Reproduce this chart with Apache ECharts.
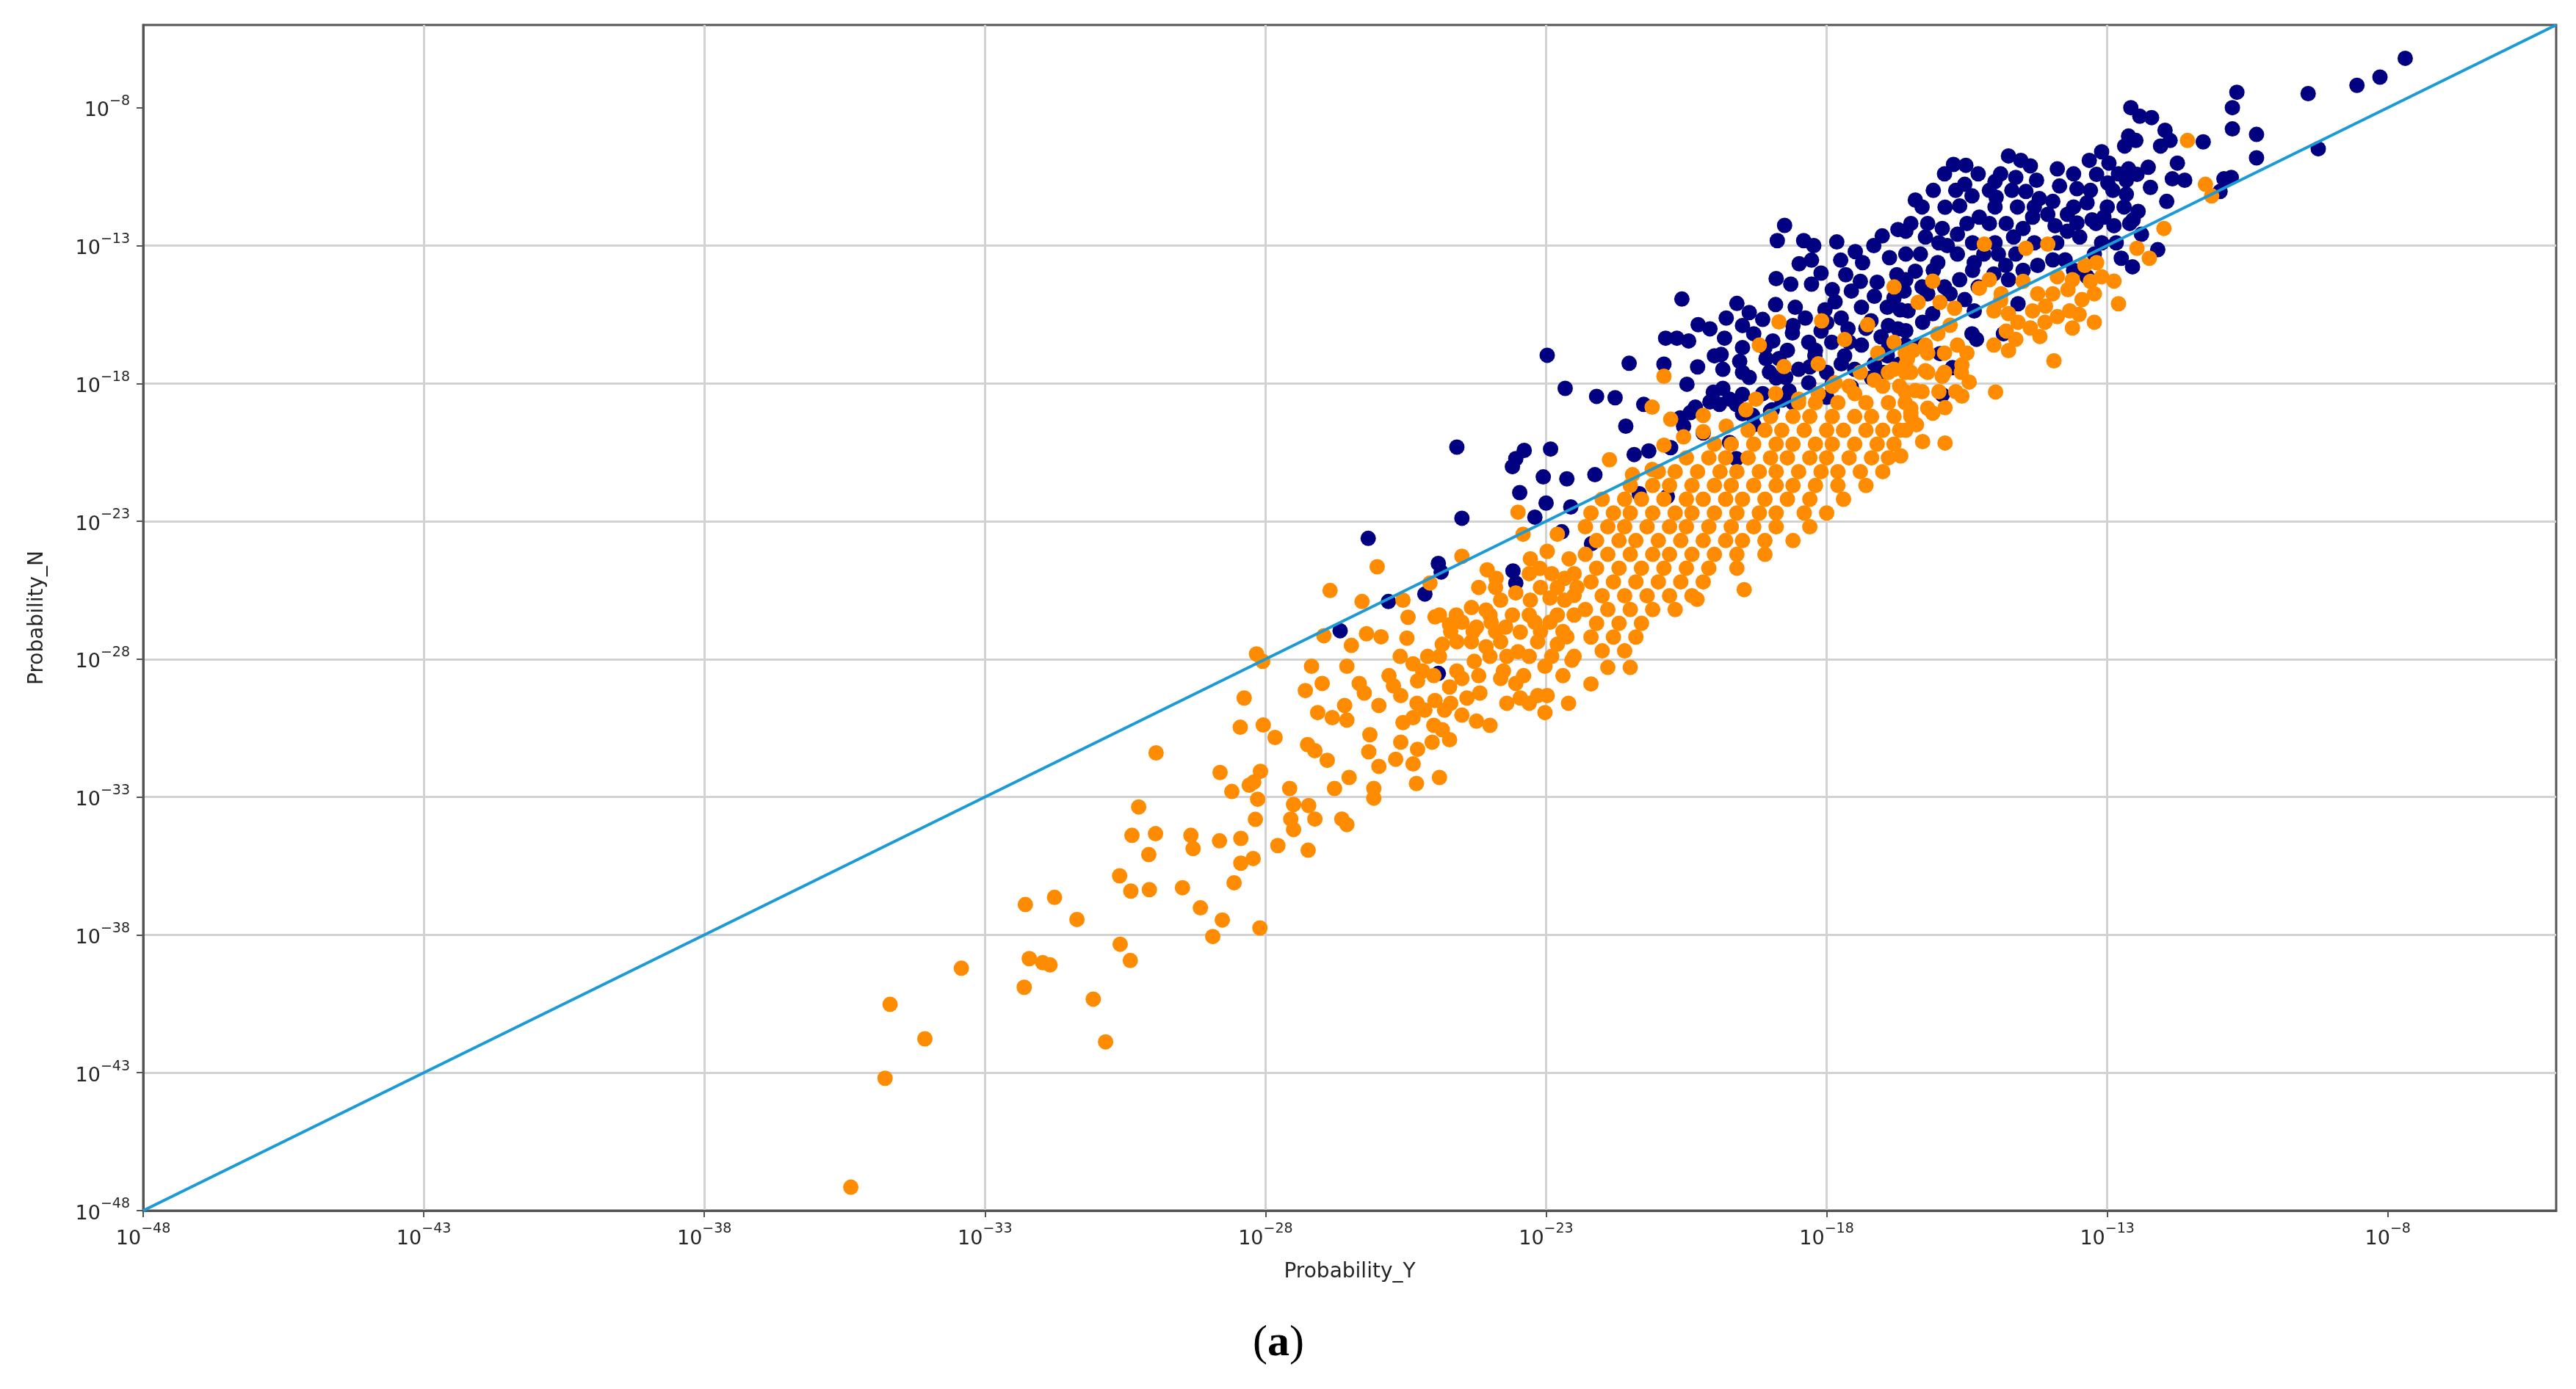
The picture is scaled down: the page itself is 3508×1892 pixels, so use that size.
<!DOCTYPE html>
<html lang="en">
<head>
  <meta charset="UTF-8">
  <title>Probability_N vs Probability_Y</title>
  <style>
    html, body { margin: 0; padding: 0; background: #fff; }
    #chart { width: 3508px; height: 1892px; }
  </style>
</head>
<body>
  <div id="chart"></div>
  <script src="https://cdn.jsdelivr.net/npm/echarts@6/dist/echarts.min.js"></script>
  <script>
    // all values are log10 exponents: [log10(P_Y), log10(P_N)]
    var tickExponents = [-48, -43, -38, -33, -28, -23, -18, -13, -8]
    var axisMin = -48
    var axisMax = -5
    var diagonal = [[-48, -48], [-5, -5]]

    var navyPoints = [
      [-26.17,-23.62],[-24.50,-22.89],[-23.47,-21.96],[-23.0,-22.34],[-22.56,-22.48],[-23.20,-22.85],
      [-22.72,-23.38],[-24.92,-24.53],[-24.87,-24.84],[-25.16,-25.64],[-25.81,-25.91],[-26.67,-26.97],
      [-23.59,-24.80],[-23.54,-25.24],[-24.92,-28.52],
      [-22.98,-16.98],[-24.59,-20.31],[-23.54,-20.73],[-23.39,-20.43],[-23.60,-21.02],[-22.92,-20.38],
      [-23.05,-21.39],[-22.63,-21.46],[-22.19,-23.81],[-22.13,-21.31],[-21.52,-17.27],[-22.66,-18.18],
      [-22.10,-18.47],[-21.77,-18.52],[-21.26,-18.76],[-21.58,-19.55],[-21.43,-20.58],[-21.17,-20.45],
      [-20.78,-20.33],[-21.34,-22.0],[-20.84,-22.10],[-20.58,-14.94],[-20.87,-16.36],[-20.67,-16.36],
      [-20.46,-16.46],[-20.29,-15.87],[-20.08,-16.02],[-19.82,-16.36],[-19.79,-15.63],[-20.49,-18.03],
      [-20.61,-19.25],[-20.43,-19.06],[-20.34,-18.86],[-20.55,-19.55],[-20.02,-18.32],[-19.85,-18.18],
      [-19.73,-18.57],[-20.08,-18.67],[-19.91,-18.76],[-19.61,-18.76],[-19.88,-16.95],[-19.85,-17.49],
      [-19.55,-17.20],[-19.38,-17.78],[-19.73,-20.14],[-19.61,-20.73],[-19.38,-15.43],[-19.14,-15.68],
      [-18.91,-15.14],[-18.56,-15.24],[-18.64,-14.40],[-18.27,-14.40],[-18.38,-15.63],[-18.61,-16.17],
      [-18.96,-16.46],[-19.08,-17.10],[-18.85,-17.10],[-19.02,-17.59],[-18.73,-17.78],[-18.50,-17.49],
      [-18.32,-16.51],[-18.21,-17.0],[-19.14,-18.37],[-18.67,-18.27],[-18.32,-17.98],[-18.97,-18.96],
      [-19.32,-19.16],[-18.03,-15.33],[-17.85,-15.04],[-17.74,-15.63],[-17.56,-14.65],[-17.38,-15.24],
      [-17.15,-14.84],[-16.92,-15.24],[-17.21,-15.73],[-17.62,-16.02],[-17.91,-16.51],[-17.68,-17.0],
      [-17.38,-16.61],[-17.03,-16.31],[-16.73,-16.02],[-17.50,-17.49],[-17.15,-17.29],[-17.74,-17.29],
      [-17.56,-18.13],[-16.92,-17.0],[-16.69,-15.33],[-16.62,-14.65],
      [-19.6,-15.1],[-19.5,-15.9],[-18.6,-15.9],[-18.1,-16.1],[-16.9,-15.9],[-19.5,-16.7],[-19.1,-16.7],
      [-18.7,-16.8],[-17.6,-16.5],[-16.9,-16.7],[-19.5,-17.6],[-18.3,-17.4],[-18.0,-17.6],[-17.2,-17.8],
      [-16.7,-17.3],[-19.5,-18.4],[-18.8,-18.6],[-18.0,-18.5],[-17.9,-18.0],[-17.0,-17.6],[-19.5,-19.1],
      [-19.0,-19.0],[-18.6,-18.7],[-20.2,-19.8],[-19.3,-19.5],[-18.0,-15.8],[-17.4,-14.3],[-16.6,-16.6],
      [-20.3,-17.4],[-20.9,-17.3],[-20.0,-17.0],[-19.3,-16.2],[-18.9,-17.8],[-18.2,-16.8],[-17.3,-16.0],
      [-17.9,-14.6],[-18.9,-14.2],[-18.1,-14.0],[-16.8,-14.9],
      [-18.75,-12.27],[-18.88,-12.82],[-18.41,-12.82],[-18.23,-13.0],[-17.82,-12.87],[-17.49,-13.22],
      [-17.16,-13.0],[-17.01,-12.65],[-16.73,-12.42],[-18.49,-13.66],[-18.27,-13.53],[-17.75,-13.53],
      [-17.36,-13.62],[-16.88,-13.44],[-17.10,-14.33],[-17.66,-14.06],[-16.75,-14.06],
      [-16.42,-11.35],[-15.74,-10.06],[-15.52,-10.09],[-15.54,-10.78],[-15.89,-11.61],[-15.63,-11.56],
      [-15.41,-11.20],[-15.28,-11.97],[-15.0,-10.68],[-14.98,-11.25],[-14.76,-9.75],[-14.54,-9.91],
      [-14.63,-10.53],[-14.37,-10.11],[-14.26,-10.63],[-14.45,-11.04],[-14.21,-11.30],[-13.89,-10.22],
      [-13.85,-10.84],[-13.97,-11.40],[-13.71,-11.87],[-13.54,-10.94],[-13.32,-9.91],[-13.10,-9.60],
      [-12.97,-10.01],[-13.19,-10.42],[-12.99,-10.73],[-13.36,-11.45],[-13.27,-12.07],[-13.54,-12.18],
      [-13.06,-11.97],[-12.88,-12.28],[-12.58,-8.0],[-12.42,-8.31],[-12.21,-8.36],[-11.97,-8.82],
      [-12.62,-9.03],[-12.49,-9.19],[-12.69,-9.39],[-12.05,-9.39],[-11.88,-9.19],[-11.29,-9.24],
      [-10.77,-8.0],[-10.77,-8.77],[-12.62,-10.22],[-12.47,-10.42],[-12.27,-10.16],[-12.66,-10.63],
      [-12.23,-10.89],[-11.75,-10.01],[-11.84,-10.58],[-11.62,-10.63],[-11.94,-11.40],[-10.92,-10.58],
      [-10.79,-10.53],[-10.99,-11.04],[-12.66,-11.14],[-12.45,-11.76],[-12.54,-12.07],[-12.39,-12.59],
      [-12.84,-12.90],[-12.75,-13.46],[-12.55,-13.77],[-12.10,-13.15],
      [-16.59,-12.48],[-16.24,-12.69],[-15.94,-12.38],[-15.67,-12.59],[-15.85,-13.0],[-16.59,-13.31],
      [-16.33,-13.31],[-16.02,-13.62],[-15.67,-13.31],[-15.37,-13.62],[-15.20,-13.31],[-14.94,-13.31],
      [-14.81,-13.72],[-14.63,-13.31],[-14.67,-12.69],[-14.50,-12.38],[-14.33,-11.97],[-14.06,-11.87],
      [-13.93,-12.28],[-13.71,-12.48],[-13.49,-12.69],[-14.24,-13.72],[-13.97,-13.52],[-13.75,-13.52],
      [-15.02,-14.03],[-14.76,-14.24],[-15.63,-14.24],[-15.80,-14.75],[-15.54,-14.96],[-16.59,-14.24],
      [-16.42,-13.93],[-16.20,-14.75],[-16.55,-15.37],[-16.29,-15.78],[-16.11,-15.47],[-15.37,-15.37],
      [-15.33,-16.40],[-15.41,-16.20],[-14.85,-16.20],[-14.59,-15.11],[-16.59,-16.09],[-16.37,-16.61],
      [-15.98,-16.92],[-15.76,-17.43],[-15.94,-18.41],[-13.36,-14.13],[-13.23,-13.31],
      [-15.9,-10.4],[-15.3,-10.4],[-14.9,-10.4],[-13.6,-10.4],[-12.8,-10.4],
      [-16.1,-11.0],[-15.7,-11.0],[-15.1,-11.0],[-14.7,-11.0],[-13.3,-11.0],[-12.9,-11.0],
      [-16.3,-11.6],[-15.0,-11.6],[-14.6,-11.6],[-14.3,-11.6],[-13.6,-11.6],[-13.0,-11.6],[-12.7,-11.6],
      [-16.5,-12.2],[-16.2,-12.2],[-15.5,-12.2],[-15.1,-12.2],[-14.8,-12.2],[-13.2,-12.2],[-12.6,-12.2],
      [-16.0,-12.9],[-15.4,-12.9],[-15.0,-12.9],[-14.3,-12.9],[-13.9,-12.9],[-13.1,-12.9],
      [-16.1,-13.9],[-15.4,-13.9],[-14.5,-13.9],[-13.6,-13.9],[-16.3,-14.5],[-15.9,-14.5],[-15.3,-14.5],
      [-7.69,-6.21],[-8.14,-6.89],[-8.55,-7.19],[-9.42,-7.49],[-9.24,-9.49],[-10.69,-7.44],
      [-10.34,-8.97],[-10.34,-9.82]
    ]

    var orangePoints = [
      [-35.39,-47.15],[-34.78,-43.2],[-34.69,-40.52],[-34.07,-41.77],[-33.42,-39.21],[-32.28,-36.90],
      [-31.76,-36.64],[-31.36,-37.44],[-32.21,-38.86],[-31.97,-39.01],[-31.84,-39.09],[-32.30,-39.90],
      [-31.07,-40.33],[-30.85,-41.88],[-30.59,-38.34],[-30.41,-38.93],[-30.60,-35.86],[-30.40,-36.41],
      [-30.07,-36.36],[-30.08,-35.09],[-30.38,-34.39],[-29.96,-34.33],[-30.26,-33.36],[-29.95,-31.40],
      [-29.48,-36.29],[-29.33,-34.39],[-29.29,-34.87],[-29.16,-37.02],[-28.82,-34.59],[-28.77,-37.46],
      [-28.94,-38.06],[-28.44,-34.50],[-28.44,-35.40],[-28.22,-35.23],[-28.56,-36.11],[-28.10,-37.75],
      [-28.18,-33.81],[-28.14,-33.08],[-28.29,-32.57],[-28.21,-32.46],[-28.60,-32.80],[-28.81,-32.11],
      [-28.09,-32.07],[-28.45,-30.47],[-28.04,-30.39],[-27.83,-30.84],[-27.78,-34.76],
      [-27.50,-34.18],[-27.24,-34.93],[-26.55,-34.0],
      [-26.01,-24.65],[-26.85,-25.51],[-26.28,-25.91],[-26.96,-27.15],[-26.47,-27.50],[-26.20,-27.08],
      [-25.94,-27.19],[-25.48,-27.24],[-28.16,-27.81],[-28.05,-28.08],[-27.18,-28.26],[-26.55,-28.26],
      [-25.55,-25.86],[-25.46,-26.48],[-24.98,-26.47],[-25.07,-25.24],[-24.50,-24.27],[-24.05,-24.76],
      [-23.89,-25.07],[-23.50,-22.67],[-23.41,-23.47],[-23.28,-24.36],[-22.80,-23.47],[-22.59,-24.36],
      [-22.98,-24.09],[-23.11,-24.71],[-22.67,-25.07],[-22.50,-25.69],
      [-24.33,-26.13],[-24.07,-26.22],[-23.81,-25.86],[-23.54,-25.60],[-23.28,-25.86],[-22.93,-25.78],
      [-22.67,-25.86],[-24.72,-26.75],[-24.50,-26.66],[-24.24,-26.84],[-23.98,-26.66],[-23.72,-26.84],
      [-23.46,-27.02],[-23.20,-26.66],[-22.93,-26.66],[-22.63,-27.19],[-24.85,-27.46],[-24.59,-27.37],
      [-24.33,-27.37],[-24.07,-27.55],[-23.81,-27.37],[-23.50,-27.73],[-23.15,-27.37],[-22.80,-27.46],
      [-22.54,-28.04],[-25.37,-28.17],[-25.11,-27.90],[-25.20,-28.43],[-24.59,-28.43],[-24.28,-28.08],
      [-23.02,-28.26],[-22.98,-29.32],[-23.02,-29.94],[-23.76,-28.43],[-23.81,-28.70],[-23.54,-28.88],
      [-23.46,-29.41],[-23.15,-29.32],[-24.18,-29.23],[-24.41,-29.41],[-24.72,-29.01],[-24.50,-28.70],
      [-25.72,-28.97],[-25.59,-29.32],[-25.29,-28.79],[-24.98,-29.50],[-25.16,-29.85],[-25.37,-30.12],
      [-25.55,-30.30],[-24.81,-29.85],[-24.50,-30.03],[-24.24,-30.25],[-24.85,-30.56],[-24.72,-30.92],
      [-25.03,-31.01],[-25.29,-31.27],[-25.59,-31.01],[-25.68,-31.63],[-25.37,-31.80],[-24.90,-32.29],
      [-25.31,-32.51],[-25.98,-31.89],[-26.16,-31.36],[-26.14,-30.74],[-26.33,-28.88],[-26.24,-29.23],
      [-25.98,-29.68],[-26.59,-29.68],[-26.99,-28.88],[-27.29,-29.14],[-27.07,-29.94],[-26.81,-30.12],
      [-26.55,-30.21],[-28.38,-29.41],[-27.25,-31.10],[-27.12,-31.32],[-26.90,-31.67],[-27.57,-32.69],
      [-27.50,-33.27],[-27.23,-33.31],[-26.77,-32.69],[-26.51,-32.29],[-26.07,-32.69],[-26.07,-33.04],
      [-27.55,-33.80],[-27.12,-33.80],[-26.64,-33.80],
      [-23.3,-24.9],[-22.9,-24.9],[-22.5,-24.9],
      [-24.2,-25.4],[-23.9,-25.4],[-23.1,-25.4],[-22.8,-25.4],[-22.45,-25.4],
      [-24.9,-26.4],[-24.6,-26.4],[-24.0,-26.4],[-23.6,-26.4],[-23.3,-26.4],[-22.8,-26.4],[-22.5,-26.4],
      [-24.7,-27.0],[-24.3,-27.0],[-23.9,-27.0],[-23.1,-27.0],[-22.7,-27.0],
      [-25.6,-27.9],[-24.9,-27.9],[-24.0,-27.9],[-23.7,-27.9],[-23.3,-27.9],[-22.9,-27.9],[-22.5,-27.9],
      [-25.8,-28.6],[-25.0,-28.6],[-24.2,-28.6],[-23.4,-28.6],[-22.7,-28.6],
      [-25.3,-29.6],[-24.7,-29.6],[-23.7,-29.6],[-23.3,-29.6],[-22.6,-29.6],[-25.0,-30.4],[-24.0,-30.4],
      [-20.90,-17.74],[-21.11,-18.86],[-20.78,-19.30],[-19.20,-16.61],[-18.85,-15.77],[-18.09,-15.73],
      [-17.68,-16.41],[-17.27,-15.87],[-16.80,-14.50],[-16.80,-16.51],[-18.76,-17.39],[-18.15,-17.29],
      [-17.09,-16.90],[-20.20,-19.16],[-21.87,-20.77],[-21.46,-21.31],[-21.11,-21.12],[-20.90,-20.24],
      [-20.55,-19.94],[-20.20,-19.75],[-19.79,-19.55],[-19.44,-18.96],[-19.26,-18.57],[-18.91,-18.37],
      [-18.50,-18.57],[-18.15,-18.37],[-17.85,-17.98],[-17.50,-18.37],[-17.15,-17.88],[-16.80,-17.49],
      [-16.56,-17.10],[-19.47,-25.48],[-20.31,-25.83],
      [-17.4,-17.6],[-16.9,-17.6],[-16.6,-17.6],
      [-17.9,-18.1],[-17.6,-18.1],[-17.0,-18.1],[-16.7,-18.1],
      [-18.5,-18.7],[-18.2,-18.7],[-17.8,-18.7],[-17.3,-18.7],[-16.9,-18.7],[-16.6,-18.7],
      [-19.0,-19.2],[-18.6,-19.2],[-18.3,-19.2],[-17.9,-19.2],[-17.5,-19.2],[-17.2,-19.2],[-16.8,-19.2],[-16.5,-19.2],
      [-19.4,-19.7],[-19.1,-19.7],[-18.8,-19.7],[-18.4,-19.7],[-18.0,-19.7],[-17.7,-19.7],[-17.3,-19.7],[-17.0,-19.7],[-16.7,-19.7],
      [-20.0,-20.2],[-19.7,-20.2],[-19.3,-20.2],[-18.9,-20.2],[-18.6,-20.2],[-18.2,-20.2],[-17.9,-20.2],[-17.5,-20.2],[-17.1,-20.2],[-16.8,-20.2],
      [-20.5,-20.7],[-20.1,-20.7],[-19.8,-20.7],[-19.4,-20.7],[-19.0,-20.7],[-18.7,-20.7],[-18.3,-20.7],[-18.0,-20.7],[-17.6,-20.7],[-17.2,-20.7],[-16.9,-20.7],
      [-21.0,-21.2],[-20.7,-21.2],[-20.3,-21.2],[-19.9,-21.2],[-19.6,-21.2],[-19.2,-21.2],[-18.9,-21.2],[-18.5,-21.2],[-18.1,-21.2],[-17.8,-21.2],[-17.4,-21.2],[-17.0,-21.2],
      [-21.5,-21.7],[-21.1,-21.7],[-20.8,-21.7],[-20.4,-21.7],[-20.0,-21.7],[-19.7,-21.7],[-19.3,-21.7],[-18.9,-21.7],[-18.6,-21.7],[-18.2,-21.7],[-17.8,-21.7],[-17.3,-21.7],
      [-22.0,-22.2],[-21.6,-22.2],[-21.3,-22.2],[-20.9,-22.2],[-20.5,-22.2],[-20.2,-22.2],[-19.8,-22.2],[-19.5,-22.2],[-19.1,-22.2],[-18.7,-22.2],[-18.3,-22.2],[-17.7,-22.2],
      [-22.2,-22.7],[-21.8,-22.7],[-21.5,-22.7],[-21.1,-22.7],[-20.7,-22.7],[-20.4,-22.7],[-20.0,-22.7],[-19.6,-22.7],[-19.2,-22.7],[-18.9,-22.7],[-18.4,-22.7],[-18.0,-22.7],
      [-22.3,-23.2],[-21.9,-23.2],[-21.6,-23.2],[-21.2,-23.2],[-20.8,-23.2],[-20.5,-23.2],[-20.1,-23.2],[-19.7,-23.2],[-19.3,-23.2],[-18.9,-23.2],[-18.3,-23.2],
      [-22.1,-23.7],[-21.7,-23.7],[-21.4,-23.7],[-21.0,-23.7],[-20.6,-23.7],[-20.2,-23.7],[-19.8,-23.7],[-19.5,-23.7],[-19.1,-23.7],[-18.6,-23.7],
      [-22.3,-24.2],[-21.9,-24.2],[-21.5,-24.2],[-21.1,-24.2],[-20.8,-24.2],[-20.4,-24.2],[-20.0,-24.2],[-19.6,-24.2],[-19.1,-24.2],
      [-22.1,-24.7],[-21.7,-24.7],[-21.3,-24.7],[-20.9,-24.7],[-20.5,-24.7],[-20.1,-24.7],[-19.6,-24.7],
      [-22.2,-25.2],[-21.8,-25.2],[-21.4,-25.2],[-21.0,-25.2],[-20.6,-25.2],[-20.2,-25.2],
      [-22.0,-25.7],[-21.6,-25.7],[-21.2,-25.7],[-20.8,-25.7],[-20.4,-25.7],
      [-22.3,-26.2],[-21.9,-26.2],[-21.5,-26.2],[-21.1,-26.2],[-20.7,-26.2],
      [-22.1,-26.7],[-21.7,-26.7],[-21.3,-26.7],
      [-22.2,-27.2],[-21.8,-27.2],[-21.4,-27.2],
      [-22.0,-27.7],[-21.6,-27.7],[-21.9,-28.3],[-21.5,-28.3],[-22.2,-28.9],
      [-11.57,-9.19],[-11.25,-10.78],[-11.14,-11.20],[-11.99,-12.38],[-12.47,-13.10],[-12.25,-13.46],
      [-12.88,-14.29],[-12.80,-15.11],[-15.19,-12.95],[-14.45,-13.10],[-14.06,-12.95],[-16.11,-14.29],
      [-16.37,-15.06],[-15.98,-15.06],[-15.72,-15.27],[-15.28,-14.55],[-15.10,-14.24],[-14.89,-14.75],
      [-15.02,-15.37],[-14.76,-15.47],[-14.59,-15.78],[-14.33,-15.37],[-14.24,-14.75],[-13.97,-14.75],
      [-13.89,-14.13],[-13.62,-14.24],[-13.40,-13.72],[-13.19,-13.62],[-13.10,-14.13],[-13.23,-14.75],
      [-13.45,-14.96],[-13.67,-15.37],[-13.89,-15.58],[-13.62,-15.99],[-13.23,-15.78],[-14.11,-15.78],
      [-14.37,-15.99],[-14.63,-16.40],[-15.02,-16.61],[-14.76,-16.81],[-13.95,-17.18],[-14.99,-18.31],
      [-15.59,-17.33],[-15.46,-17.95],[-15.59,-18.46],[-15.89,-18.88],[-16.11,-19.08],[-16.50,-19.08],
      [-16.59,-19.70],[-16.29,-20.11],[-15.89,-20.16],[-16.68,-20.63],[-16.24,-17.54],[-15.94,-17.74],
      [-16.42,-18.26],[-16.59,-17.33],[-15.67,-16.61],[-16.46,-16.81],[-16.24,-16.61],[-15.80,-15.89],
      [-16.02,-16.20],
      [-16.6,-16.9],[-16.2,-16.9],[-15.9,-16.9],[-15.5,-16.9],[-16.5,-17.6],[-16.2,-17.6],[-15.9,-17.6],
      [-15.6,-17.6],[-16.6,-18.3],[-16.3,-18.3],[-16.0,-18.3],[-15.7,-18.3],[-16.5,-18.9],[-16.2,-18.9],
      [-16.4,-19.5],[-14.9,-15.0],[-14.5,-14.3],[-14.1,-15.2],[-13.7,-14.6],[-13.3,-14.3],[-14.8,-16.1],
      [-14.2,-16.3],[-13.5,-15.5]
    ]

    var textColor = '#262626'
    var frameColor = '#555555'
    var fontFamily = 'DejaVu Sans'

    var powerLabel = function (v) {
      if (tickExponents.indexOf(v) < 0) {
        return ''
      }
      return '{b|10}{s|\u2212' + Math.abs(v) + '}'
    }

    var labelRich = {
      b: { fontSize: 27, lineHeight: 36, verticalAlign: 'bottom', color: textColor, fontFamily: fontFamily },
      s: { fontSize: 19, lineHeight: 36, verticalAlign: 'top', color: textColor, fontFamily: fontFamily }
    }

    var makeAxis = function (name, isX) {
      return {
        type: 'value',
        min: axisMin,
        max: axisMax,
        interval: 5,
        name: name,
        nameLocation: 'middle',
        nameGap: isX ? 70 : 130,
        nameRotate: isX ? 0 : 90,
        nameTextStyle: { fontSize: 28, color: textColor, fontFamily: fontFamily },
        axisLine: { show: true, lineStyle: { color: frameColor, width: 3 } },
        axisTick: {
          show: true,
          length: 9,
          customValues: tickExponents,
          lineStyle: { color: frameColor, width: 2 }
        },
        axisLabel: {
          margin: isX ? 16 : 18,
          customValues: tickExponents,
          formatter: powerLabel,
          rich: labelRich
        },
        splitLine: {
          show: true,
          showMinLine: false,
          showMaxLine: false,
          lineStyle: { color: '#d2d2d2', width: 3 }
        }
      }
    }

    var option = {
      animation: false,
      backgroundColor: '#ffffff',
      grid: {
        left: 195,
        right: 27,
        top: 34,
        bottom: 243,
        show: true,
        borderColor: frameColor,
        borderWidth: 3,
        backgroundColor: 'transparent'
      },
      xAxis: makeAxis('Probability_Y', true),
      yAxis: makeAxis('Probability_N', false),
      graphic: [{
        type: 'text',
        x: 1741,
        y: 1830,
        style: {
          text: '{p|(}{a|a}{p|)}',
          align: 'center',
          verticalAlign: 'middle',
          rich: {
            p: { fontSize: 60, fontFamily: 'Liberation Serif', color: '#000' },
            a: { fontSize: 60, fontFamily: 'Liberation Serif', fontWeight: 'bold', color: '#000' }
          }
        }
      }],
      series: [
        {
          name: 'N',
          type: 'scatter',
          symbolSize: 21,
          itemStyle: { color: '#000080', opacity: 1 },
          data: navyPoints,
          z: 2
        },
        {
          name: 'Y',
          type: 'scatter',
          symbolSize: 21,
          itemStyle: { color: '#ff8c00', opacity: 1 },
          data: orangePoints,
          z: 3
        },
        {
          name: 'diagonal',
          type: 'line',
          symbol: 'none',
          lineStyle: { color: '#1b9ad6', width: 4 },
          data: diagonal,
          z: 4
        }
      ]
    }

    var chart = echarts.init(document.getElementById('chart'))
    chart.setOption(option)
  </script>
</body>
</html>
